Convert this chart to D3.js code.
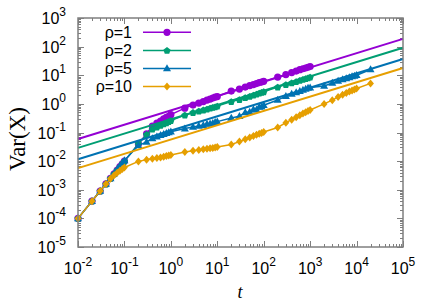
<!DOCTYPE html>
<html>
<head>
<meta charset="utf-8">
<script src="https://cdn.jsdelivr.net/npm/d3@7"></script>
<style>
body { margin: 0; background: #fff; }
svg { display: block; }
</style>
</head>
<body>
<div id="chart"></div>
<script>
// sampling times (same for every run, the long runs go further)
var tShort = [0.01, 0.02, 0.03, 0.04, 0.05, 0.06, 0.07, 0.08, 0.09, 0.1,
    0.2, 0.3, 0.4, 0.5, 0.6, 0.7, 0.8, 0.9, 1,
    2, 3, 4, 5, 6, 7, 8, 9, 10,
    20, 30, 40, 50, 60, 70, 80, 90, 100,
    200, 300, 400, 500, 600, 700, 800, 900, 1000];
var tLong = tShort.concat([2000, 3000, 4000, 5000, 6000, 7000, 8000, 9000, 10000, 20000]);

// Var(X)
var varRho1 = [1e-4, 4e-4, 9e-4, 1.6e-3, 2.5e-3, 3.6e-3, 4.9e-3, 6.4e-3, 8.1e-3, 1.0e-2,
    0.04, 0.09, 0.168, 0.214, 0.25, 0.30, 0.34, 0.37, 0.42,
    0.71, 0.91, 1.07, 1.2, 1.36, 1.47, 1.6, 1.73, 1.8,
    2.8, 3.3, 3.87, 4.37, 4.73, 5.13, 5.56, 5.79, 6.12,
    8.65, 10.6, 12.4, 14.0, 15.6, 16.9, 17.9, 19.0, 20.2];
var varRho2 = [1e-4, 4e-4, 9e-4, 1.6e-3, 2.5e-3, 3.6e-3, 4.9e-3, 6.4e-3, 8.1e-3, 1.0e-2,
    0.04, 0.085, 0.131, 0.155, 0.18, 0.2, 0.22, 0.24, 0.26,
    0.405, 0.50, 0.56, 0.61, 0.66, 0.71, 0.755, 0.79, 0.84,
    1.2, 1.41, 1.66, 1.84, 2.03, 2.2, 2.39, 2.53, 2.67,
    3.87, 4.73, 5.42, 6.03, 6.64, 7.2, 7.67, 8.1, 8.65];
var varRho5 = [1e-4, 4e-4, 9e-4, 1.6e-3, 2.5e-3, 3.7e-3, 5.0e-3, 6.6e-3, 8.4e-3, 1.05e-2,
    0.035, 0.047, 0.062, 0.072, 0.08, 0.087, 0.094, 0.1, 0.106,
    0.137, 0.155, 0.168, 0.18, 0.197, 0.205, 0.213, 0.231, 0.24,
    0.32, 0.37, 0.50, 0.52, 0.64, 0.63, 0.78, 0.79, 0.90,
    1.36, 1.87, 2.2, 2.49, 2.8, 3.04, 3.29, 3.57, 3.71,
    4.19, 5.33, 6.27, 7.08, 7.67, 8.45, 9.0, 9.38, 10.0, 15.8];
var varRho10 = [1e-4, 4e-4, 9e-4, 1.6e-3, 2.4e-3, 3.2e-3, 3.9e-3, 4.6e-3, 5.3e-3, 6.0e-3,
    0.0098, 0.0112, 0.012, 0.0128, 0.0135, 0.0142, 0.0150, 0.0158, 0.0165,
    0.021, 0.023, 0.0245, 0.026, 0.027, 0.028, 0.029, 0.030, 0.031,
    0.038, 0.048, 0.058, 0.067, 0.075, 0.083, 0.09, 0.097, 0.104,
    0.15, 0.22, 0.28, 0.34, 0.40, 0.46, 0.51, 0.56, 0.61,
    1.0, 1.35, 1.75, 2.1, 2.4, 2.7, 2.95, 3.2, 3.45, 5.2];

// power law fits  Var = A t^0.5
var fitA = [0.59, 0.29, 0.117, 0.057];
var fitExp = 0.5;

var rhoLabels = ["ρ=1", "ρ=2", "ρ=5", "ρ=10"];
var colors = ["#9400d3", "#009e73", "#0072b2", "#e69f00"];
var shapes = ["circle", "pentagon", "triangle", "diamond"];

var xTicks = [1e-2, 1e-1, 1e0, 1e1, 1e2, 1e3, 1e4, 1e5];
var yTicks = [1e-5, 1e-4, 1e-3, 1e-2, 1e-1, 1e0, 1e1, 1e2, 1e3];

var series = [
    {t: tShort, v: varRho1},
    {t: tShort, v: varRho2},
    {t: tLong, v: varRho5},
    {t: tLong, v: varRho10}
];

var width = 436, height = 305;
var margin = {top: 18, right: 33, bottom: 58, left: 78};

var svg = d3.select("#chart").append("svg")
    .attr("width", width)
    .attr("height", height);

var x = d3.scaleLog().domain([1e-2, 1e5]).range([margin.left, width - margin.right]);
var y = d3.scaleLog().domain([1e-5, 1e3]).range([height - margin.bottom, margin.top]);

var x0 = x.range()[0], x1 = x.range()[1];
var y0 = y.range()[0], y1 = y.range()[1];

function symbolPath(shape, cx, cy) {
    if (shape == "circle") {
        var r = 3.6;
        return "M" + (cx - r) + "," + cy + "a" + r + "," + r + " 0 1,0 " + (2 * r) + ",0a" + r + "," + r + " 0 1,0 " + (-2 * r) + ",0Z";
    }
    var pts = [];
    if (shape == "pentagon") {
        for (var i = 0; i < 5; i++) {
            var a = -Math.PI / 2 + i * 2 * Math.PI / 5;
            pts.push([cx + 3.8 * Math.cos(a), cy + 3.8 * Math.sin(a) + 0.4]);
        }
    } else if (shape == "triangle") {
        pts = [[cx, cy - 4.2], [cx + 4, cy + 2.8], [cx - 4, cy + 2.8]];
    } else {
        pts = [[cx, cy - 4], [cx + 3.4, cy], [cx, cy + 4], [cx - 3.4, cy]];
    }
    return "M" + pts.map(function(p) { return p[0] + "," + p[1]; }).join("L") + "Z";
}

// frame ticks (log minor ticks, mirrored, pointing in)
var frameColor = "#7f7f7f";
var ticks = svg.append("g").attr("stroke", frameColor).attr("stroke-width", 1);

var xMinor = [];
xTicks.forEach(function(d) {
    for (var k = 2; k < 10; k++) if (d * k < 1e5) xMinor.push(d * k);
});
var yMinor = [];
yTicks.forEach(function(d) {
    for (var k = 2; k < 10; k++) if (d * k < 1e3) yMinor.push(d * k);
});

ticks.selectAll(".xmaj").data(xTicks).enter().append("path")
    .attr("d", function(d) {
        var px = Math.round(x(d)) + 0.5;
        return "M" + px + "," + y0 + "v-6M" + px + "," + y1 + "v6";
    });
ticks.selectAll(".xmin").data(xMinor).enter().append("path")
    .attr("d", function(d) {
        var px = Math.round(x(d)) + 0.5;
        return "M" + px + "," + y0 + "v-3M" + px + "," + y1 + "v3";
    });
ticks.selectAll(".ymaj").data(yTicks).enter().append("path")
    .attr("d", function(d) {
        var py = Math.round(y(d)) + 0.5;
        return "M" + x0 + "," + py + "h6M" + x1 + "," + py + "h-6";
    });
ticks.selectAll(".ymin").data(yMinor).enter().append("path")
    .attr("d", function(d) {
        var py = Math.round(y(d)) + 0.5;
        return "M" + x0 + "," + py + "h3M" + x1 + "," + py + "h-3";
    });

// data + fits
var line = d3.line()
    .x(function(d) { return x(d[0]); })
    .y(function(d) { return y(d[1]); });

series.forEach(function(s, i) {
    var pts = s.t.map(function(t, j) { return [t, s.v[j]]; });
    var g = svg.append("g");

    g.append("path")
        .attr("d", line(pts))
        .attr("fill", "none")
        .attr("stroke", colors[i])
        .attr("stroke-width", 1.5);

    g.selectAll(".pt").data(pts).enter().append("path")
        .attr("class", "pt")
        .attr("d", function(d) { return symbolPath(shapes[i], x(d[0]), y(d[1])); })
        .attr("fill", colors[i]);

    var fitPts = [1e-2, 1e5].map(function(t) { return [t, fitA[i] * Math.pow(t, fitExp)]; });
    g.append("path")
        .attr("d", line(fitPts))
        .attr("fill", "none")
        .attr("stroke", colors[i])
        .attr("stroke-width", 2);
});

// border on top
svg.append("rect")
    .attr("x", x0).attr("y", y1)
    .attr("width", x1 - x0).attr("height", y0 - y1)
    .attr("fill", "none")
    .attr("stroke", frameColor)
    .attr("stroke-width", 1.5);

// tick labels
var font = "'Liberation Sans', Arial, sans-serif";

var xl = svg.append("g").attr("font-family", font).attr("fill", "#000");
xTicks.forEach(function(d) {
    var txt = xl.append("text")
        .attr("x", x(d))
        .attr("y", 273.5)
        .attr("text-anchor", "middle")
        .attr("font-size", 16);
    txt.append("tspan").text("10");
    txt.append("tspan").attr("dy", -8).attr("font-size", 12).text(Math.round(Math.log10(d)));
});

yTicks.forEach(function(d) {
    var txt = xl.append("text")
        .attr("x", 66)
        .attr("y", y(d) + 6)
        .attr("text-anchor", "end")
        .attr("font-size", 16);
    txt.append("tspan").text("10");
    txt.append("tspan").attr("dy", -8).attr("font-size", 12).text(Math.round(Math.log10(d)));
});

// axis titles
svg.append("text")
    .attr("x", 240)
    .attr("y", 298)
    .attr("text-anchor", "middle")
    .attr("font-family", "'Liberation Serif', 'Times New Roman', serif")
    .attr("font-style", "italic")
    .attr("font-size", 18)
    .text("t");

svg.append("text")
    .attr("transform", "translate(25,139) rotate(-90)")
    .attr("text-anchor", "middle")
    .attr("font-family", "'Liberation Serif', 'Times New Roman', serif")
    .attr("font-size", 23)
    .text("Var(X)");

// legend
var legend = svg.append("g").attr("font-family", font);
rhoLabels.forEach(function(lab, i) {
    var ly = 32.3 + i * 18.1;
    legend.append("text")
        .attr("x", 132)
        .attr("y", ly + 5.5)
        .attr("text-anchor", "end")
        .attr("font-size", 16)
        .text(lab);
    legend.append("line")
        .attr("x1", 143).attr("x2", 191)
        .attr("y1", ly).attr("y2", ly)
        .attr("stroke", colors[i])
        .attr("stroke-width", 1.5);
    legend.append("path")
        .attr("d", symbolPath(shapes[i], 167, ly))
        .attr("fill", colors[i]);
});
</script>
</body>
</html>
